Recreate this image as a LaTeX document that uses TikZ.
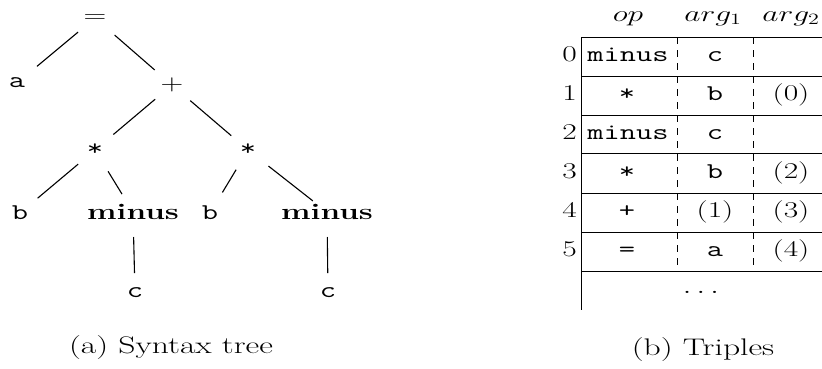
\documentclass[tikz,border=0pt]{standalone}
\usepackage{graphicx}
\usepackage{fix-cm}
\newcommand{\hstretch}{1.4}
\newcommand{\widen}[1]{\scalebox{\hstretch}[1]{#1}}
\begin{document}
\begin{tikzpicture}[x=1pt,y=-1pt,
  lab/.style={inner sep=0pt, font=\fontsize{22.5}{27}\selectfont},
  captext/.style={inner sep=0pt, font=\fontsize{24}{29}\selectfont, anchor=base},
  cell/.style={lab, anchor=base},
  num/.style={lab, anchor=base east},
  treeline/.style={line width=1.1pt},
  rule/.style={line width=1pt},
  dsh/.style={line width=0.9pt, dash pattern=on 7pt off 6pt}]
\useasboundingbox (0,0) rectangle (822,368);

% ---------- syntax tree ----------
\node[lab] (eq) at (95,18) {\widen{$=$}};
\node[lab] (a) at (17,83) {\widen{\texttt{a}}};
\node[lab] (plus) at (172,85) {\widen{$+$}};
\node[lab] (s1) at (95,150) {\widen{\texttt{*}}};
\node[lab] (s2) at (248,150) {\widen{\texttt{*}}};
\node[lab] (b1) at (20,213) {\widen{\texttt{b}}};
\node[lab] (m1) at (133,212) {\widen{\textbf{minus}}};
\node[lab] (b2) at (210,213) {\widen{\texttt{b}}};
\node[lab] (m2) at (327,212) {\widen{\textbf{minus}}};
\node[lab] (c1) at (135,293) {\widen{\texttt{c}}};
\node[lab] (c2) at (328,293) {\widen{\texttt{c}}};

\draw[treeline, shorten <=22pt, shorten >=26pt] (eq.center) -- (a.center);
\draw[treeline, shorten <=26pt, shorten >=23pt] (eq.center) -- (plus.center);
\draw[treeline, shorten <=22pt, shorten >=24pt] (plus.center) -- (s1.center);
\draw[treeline, shorten <=24pt, shorten >=22pt] (plus.center) -- (s2.center);
\draw[treeline, shorten <=22pt, shorten >=23pt] (s1.center) -- (b1.center);
\draw[treeline, shorten <=25pt, shorten >=21pt] (s1.center) -- (m1.center);
\draw[treeline, shorten <=23pt, shorten >=24pt] (s2.center) -- (b2.center);
\draw[treeline, shorten <=26pt, shorten >=18pt] (s2.center) -- (m2.center);
\draw[treeline, shorten <=25pt, shorten >=20pt] (m1.center) -- (c1.center);
\draw[treeline, shorten <=25pt, shorten >=20pt] (m2.center) -- (c2.center);

\node[captext] (capa) at (171,353) {\widen{(a) Syntax tree}};

% ---------- triples table ----------
\foreach \yy in {37,76,115,153,193,232,271}
  \draw[rule] (581,\yy) -- (822,\yy);
\draw[rule] (581,37) -- (581,310);
\draw[dsh] (677,37) -- (677,271);
\draw[dsh] (753,37) -- (753,271);

\node[cell] (hop) at (628,21) {\widen{$op$}};
\node[cell] (ha1) at (713,21) {\widen{$arg_1$}};
\node[cell] (ha2) at (791,21) {\widen{$arg_2$}};

\node[num] (n0) at (577,61) {\widen{0}};
\node[num] (n1) at (577,100) {\widen{1}};
\node[num] (n2) at (577,139) {\widen{2}};
\node[num] (n3) at (577,178) {\widen{3}};
\node[num] (n4) at (577,217) {\widen{4}};
\node[num] (n5) at (577,256) {\widen{5}};

\node[cell] (r0op) at (628,61) {\widen{\texttt{minus}}};
\node[cell] (r0a1) at (715,61) {\widen{\texttt{c}}};
\node[cell] (r1op) at (627,100) {\widen{\texttt{*}}};
\node[cell] (r1a1) at (715,100) {\widen{\texttt{b}}};
\node[cell] (r1a2) at (791,100) {\widen{(0)}};
\node[cell] (r2op) at (628,139) {\widen{\texttt{minus}}};
\node[cell] (r2a1) at (715,139) {\widen{\texttt{c}}};
\node[cell] (r3op) at (627,178) {\widen{\texttt{*}}};
\node[cell] (r3a1) at (715,178) {\widen{\texttt{b}}};
\node[cell] (r3a2) at (791,178) {\widen{(2)}};
\node[cell] (r4op) at (627,217) {\widen{\texttt{+}}};
\node[cell] (r4a1) at (715,217) {\widen{(1)}};
\node[cell] (r4a2) at (791,217) {\widen{(3)}};
\node[cell] (r5op) at (627,256) {\widen{\texttt{=}}};
\node[cell] (r5a1) at (715,256) {\widen{\texttt{a}}};
\node[cell] (r5a2) at (791,256) {\widen{(4)}};
\node[cell] (dots) at (701,293) {\widen{$\ldots$}};

\node[captext] (capb) at (703,355) {\widen{(b) Triples}};
\end{tikzpicture}
\end{document}
